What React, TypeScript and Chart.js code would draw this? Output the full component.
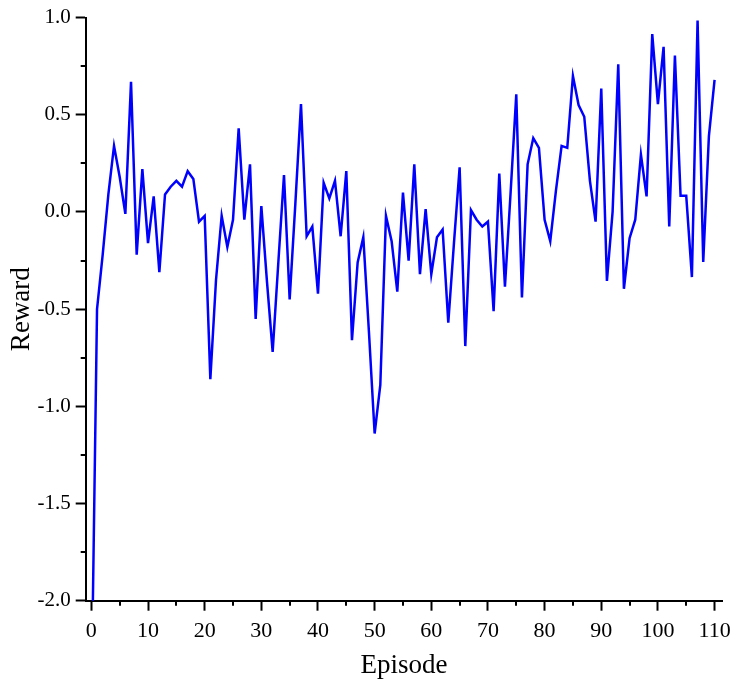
import React, { useEffect, useRef } from "react";
import { Chart, registerables } from "chart.js";

Chart.register(...registerables);

const rewards: number[] = [
  -2.55, -0.5, -0.22, 0.09, 0.34, 0.18, -0.01, 0.67, -0.22, 0.22,
  -0.16, 0.08, -0.31, 0.09, 0.13, 0.16, 0.13, 0.21, 0.17, -0.05,
  -0.02, -0.86, -0.35, -0.02, -0.18, -0.04, 0.43, -0.04, 0.245, -0.55,
  0.03, -0.36, -0.72, -0.26, 0.19, -0.45, 0.04, 0.555, -0.125, -0.075,
  -0.42, 0.15, 0.07, 0.16, -0.125, 0.21, -0.66, -0.26, -0.13, -0.62,
  -1.14, -0.89, -0.02, -0.15, -0.41, 0.1, -0.25, 0.245, -0.32, 0.015,
  -0.32, -0.13, -0.09, -0.57, -0.16, 0.23, -0.69, 0.01, -0.04, -0.075,
  -0.05, -0.51, 0.197, -0.385, 0.1, 0.605, -0.44, 0.245, 0.38, 0.33,
  -0.04, -0.15, 0.11, 0.34, 0.33, 0.7, 0.55, 0.49, 0.16, -0.05,
  0.635, -0.355, 0.0, 0.76, -0.395, -0.135, -0.04, 0.295, 0.08, 0.915,
  0.555, 0.85, -0.075, 0.805, 0.083, 0.083, -0.335, 0.985, -0.257, 0.39,
  0.68,
];

const xMajorTicks: number[] = [0, 10, 20, 30, 40, 50, 60, 70, 80, 90, 100, 110];
const xMinorTicks: number[] = [5, 15, 25, 35, 45, 55, 65, 75, 85, 95, 105];
const yMajorTicks: number[] = [-2.0, -1.5, -1.0, -0.5, 0.0, 0.5, 1.0];
const yMinorTicks: number[] = [-1.75, -1.25, -0.75, -0.25, 0.25, 0.75];

const FONT = "'Liberation Serif', 'Times New Roman', serif";

const minorTickPlugin = {
  id: "minorTicks",
  afterDraw(chart: any) {
    const ctx = chart.ctx;
    const xs = chart.scales.x;
    const ys = chart.scales.y;
    const area = chart.chartArea;
    ctx.save();
    ctx.strokeStyle = "#000";
    ctx.lineWidth = 2;
    ctx.beginPath();
    for (const v of xMinorTicks) {
      const px = Math.round(xs.getPixelForValue(v));
      ctx.moveTo(px, area.bottom);
      ctx.lineTo(px, area.bottom + 5);
    }
    for (const v of yMinorTicks) {
      const py = Math.round(ys.getPixelForValue(v));
      ctx.moveTo(area.left - 5, py);
      ctx.lineTo(area.left, py);
    }
    ctx.stroke();
    ctx.restore();
  },
};

export default function App() {
  const ref = useRef<HTMLCanvasElement | null>(null);

  useEffect(() => {
    if (!ref.current) return;
    const chart = new Chart(ref.current, {
      type: "line",
      data: {
        datasets: [
          {
            label: "Reward",
            data: rewards.map((r, i) => ({ x: i, y: r })),
            borderColor: "#0000ff",
            borderWidth: 2.5,
            pointRadius: 0,
            tension: 0,
            fill: false,
          },
        ],
      },
      options: {
        animation: false,
        responsive: false,
        layout: { padding: { top: 12.7, right: 15.5, left: 0, bottom: 0 } },
        plugins: { legend: { display: false }, tooltip: { enabled: false } },
        scales: {
          x: {
            type: "linear",
            min: -1,
            max: 111.4,
            afterBuildTicks: (scale: any) => {
              scale.ticks = xMajorTicks.map((v) => ({ value: v }));
            },
            afterFit: (scale: any) => {
              scale.height = 85.3;
            },
            ticks: {
              color: "#000",
              font: { family: FONT, size: 22 },
              padding: 7,
              maxRotation: 0,
              autoSkip: false,
              callback: (v: any) => String(v),
            },
            grid: {
              drawOnChartArea: false,
              drawTicks: true,
              tickLength: 10,
              tickWidth: 2,
              tickColor: "#000",
            },
            border: { display: true, color: "#000", width: 2 },
            title: {
              display: true,
              text: "Episode",
              color: "#000",
              font: { family: FONT, size: 27 },
              padding: { top: 0, bottom: 4 },
            },
          },
          y: {
            type: "linear",
            min: -2,
            max: 1,
            afterBuildTicks: (scale: any) => {
              scale.ticks = yMajorTicks.map((v) => ({ value: v }));
            },
            afterFit: (scale: any) => {
              scale.width = 85.7;
            },
            ticks: {
              color: "#000",
              font: { family: FONT, size: 21 },
              padding: 5,
              autoSkip: false,
              callback: (v: any) => Number(v).toFixed(1),
            },
            grid: {
              drawOnChartArea: false,
              drawTicks: true,
              tickLength: 10,
              tickWidth: 2,
              tickColor: "#000",
            },
            border: { display: true, color: "#000", width: 2 },
            title: {
              display: true,
              text: "Reward",
              color: "#000",
              font: { family: FONT, size: 27 },
              padding: { top: 6, bottom: 0 },
            },
          },
        },
      },
      plugins: [minorTickPlugin],
    });
    return () => chart.destroy();
  }, []);

  return (
    <div style={{ position: "absolute", left: 0, top: 0, width: 738, height: 686 }}>
      <canvas ref={ref} width={738} height={686} style={{ display: "block" }} />
    </div>
  );
}
